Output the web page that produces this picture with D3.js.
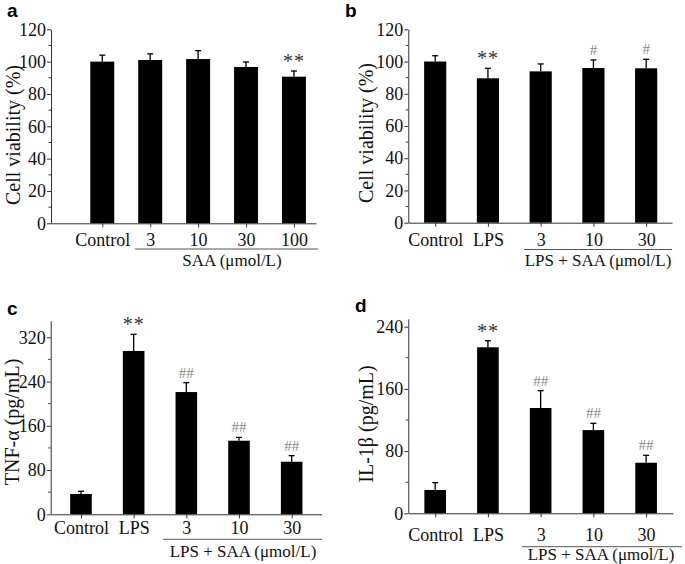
<!DOCTYPE html>
<html>
<head>
<meta charset="utf-8">
<script src="https://cdn.jsdelivr.net/npm/d3@7/dist/d3.min.js"></script>
<style>
  html, body { margin: 0; padding: 0; background: #fff; }
  svg { display: block; }
  .serif { font-family: "Liberation Serif", "Times New Roman", serif; }
</style>
</head>
<body>
<svg id="chart" width="685" height="564"></svg>
<script>
// ---------------- DATA ----------------
const catsA = ["Control", "3", "10", "30", "100"];
const valsA = [100, 101, 101.6, 96.7, 90.7];
const errA  = [4, 3.8, 5.2, 3.1, 3.5];
const sigA  = ["", "", "", "", "**"];

const catsB = ["Control", "LPS", "3", "10", "30"];
const valsB = [100, 89.6, 93.9, 96, 95.8];
const errB  = [3.6, 6.2, 4.6, 5, 5.6];
const sigB  = ["", "**", "", "#", "#"];

const catsC = ["Control", "LPS", "3", "10", "30"];
const valsC = [36.7, 295.3, 221, 133, 95];
const errC  = [4.9, 30, 17, 6, 11];
const sigC  = ["", "**", "##", "##", "##"];

const catsD = ["Control", "LPS", "3", "10", "30"];
const valsD = [30, 213.5, 135.4, 107, 65];
const errD  = [9.4, 8.5, 22.3, 8.7, 9.6];
const sigD  = ["", "**", "##", "##", "##"];

const yTicksAB = [0, 20, 40, 60, 80, 100, 120];
const yMinorAB = [10, 30, 50, 70, 90, 110];
const yTicksC  = [0, 80, 160, 240, 320];
const yMinorC  = [40, 120, 200, 280];
const yTicksD  = [0, 80, 160, 240];
const yMinorD  = [40, 120, 200];

const yLabelA = "Cell viability (%)";
const yLabelB = "Cell viability (%)";
const yLabelC = "TNF-\u03B1 (pg/mL)";
const yLabelD = "IL-1\u03B2 (pg/mL)";
const groupA = "SAA (\u03BCmol/L)";
const groupBCD = "LPS + SAA (\u03BCmol/L)";

// ---------------- LAYOUT ----------------
const panels = [
  { tag: "a", cats: catsA, vals: valsA, errs: errA, sig: sigA, yTicks: yTicksAB, yMinor: yMinorAB,
    yMax: 120, ylabel: yLabelA, group: groupA,
    L: { x0: 51, x1: 316, dom: [-0.07, 5.46], yTop: 29.3, yBot: 223.3, barW: 0.5,
         labelBase: 246.5, lineY: 249, lineX: [135, 318], groupX: 232, groupBase: 266,
         ylabX: 13, ylabY: 135, tagX: 7, tagY: 17 } },
  { tag: "b", cats: catsB, vals: valsB, errs: errB, sig: sigB, yTicks: yTicksAB, yMinor: yMinorAB,
    yMax: 120, ylabel: yLabelB, group: groupBCD,
    L: { x0: 408.3, x1: 672, dom: [0.49, 5.49], yTop: 29.3, yBot: 222.7, barW: 0.42,
         labelBase: 246.5, lineY: 249.5, lineX: [524, 672], groupX: 598, groupBase: 265.5,
         ylabX: 366, ylabY: 133, tagX: 345, tagY: 17 } },
  { tag: "c", cats: catsC, vals: valsC, errs: errC, sig: sigC, yTicks: yTicksC, yMinor: yMinorC,
    yMax: 350, ylabel: yLabelC, group: groupBCD,
    L: { x0: 50.7, x1: 321.7, dom: [0.425, 5.57], yTop: 320.7, yBot: 514.3, barW: 0.41,
         labelBase: 534, lineY: 539.3, lineX: [163, 322], groupX: 243, groupBase: 557,
         ylabX: 12, ylabY: 422, tagX: 7, tagY: 315 } },
  { tag: "d", cats: catsD, vals: valsD, errs: errD, sig: sigD, yTicks: yTicksD, yMinor: yMinorD,
    yMax: 250, ylabel: yLabelD, group: groupBCD,
    L: { x0: 408.3, x1: 673, dom: [0.49, 5.51], yTop: 318.9, yBot: 513.3, barW: 0.41,
         labelBase: 541.5, lineY: 546.7, lineX: [522, 682], groupX: 601, groupBase: 560,
         ylabX: 366, ylabY: 424, tagX: 355, tagY: 312 } }
];

const svg = d3.select("#chart");
const axisColor = "#333";
const serifFont = "Liberation Serif, Times New Roman, serif";

panels.forEach(p => {
  const L = p.L;
  const g = svg.append("g");
  const x = d3.scaleLinear().domain(L.dom).range([L.x0, L.x1]);
  const y = d3.scaleLinear().domain([0, p.yMax]).range([L.yBot, L.yTop]);
  const idx = p.cats.map((c, i) => i + 1);
  const halfW = (x(1 + L.barW) - x(1)) / 2;

  // bars
  g.selectAll("rect.bar").data(p.vals).join("rect")
    .attr("class", "bar")
    .attr("x", (d, i) => x(idx[i]) - halfW)
    .attr("width", halfW * 2)
    .attr("y", d => y(d))
    .attr("height", d => y(0) - y(d))
    .attr("fill", "#000");

  // error bars (upper only)
  const capW = 3;
  g.selectAll("line.err").data(p.vals).join("line")
    .attr("class", "err")
    .attr("x1", (d, i) => x(idx[i])).attr("x2", (d, i) => x(idx[i]))
    .attr("y1", d => y(d)).attr("y2", (d, i) => y(d + p.errs[i]))
    .attr("stroke", "#000").attr("stroke-width", 1.3);
  g.selectAll("line.cap").data(p.vals).join("line")
    .attr("class", "cap")
    .attr("x1", (d, i) => x(idx[i]) - capW).attr("x2", (d, i) => x(idx[i]) + capW)
    .attr("y1", (d, i) => y(d + p.errs[i])).attr("y2", (d, i) => y(d + p.errs[i]))
    .attr("stroke", "#000").attr("stroke-width", 1.3);

  // significance marks
  g.selectAll("text.sig").data(p.sig).join("text")
    .attr("class", "sig serif")
    .attr("x", (d, i) => x(idx[i]))
    .attr("y", (d, i) => y(p.vals[i] + p.errs[i]) - (d.startsWith("*") ? 3 : 5))
    .attr("text-anchor", "middle")
    .attr("font-size", d => d.startsWith("*") ? 20 : 15)
    .attr("fill", d => d.startsWith("*") ? "#333" : "#888")
    .attr("letter-spacing", d => d.startsWith("*") ? 1 : 0)
    .text(d => d);

  // y axis
  const yAxis = d3.axisLeft(y).tickValues(p.yTicks).tickSize(4).tickSizeOuter(0).tickPadding(1)
    .tickFormat(d3.format("d"));
  const ya = g.append("g").attr("transform", `translate(${L.x0},0)`).call(yAxis);
  ya.select(".domain").attr("stroke", axisColor);
  ya.selectAll(".tick line").attr("stroke", axisColor);
  ya.selectAll(".tick text").attr("font-size", 18).attr("fill", "#111")
    .attr("font-family", serifFont);
  // minor ticks
  g.selectAll("line.minor").data(p.yMinor).join("line")
    .attr("class", "minor")
    .attr("x1", L.x0 - 2.5).attr("x2", L.x0)
    .attr("y1", d => y(d)).attr("y2", d => y(d))
    .attr("stroke", axisColor);

  // x axis
  const xAxis = d3.axisBottom(x).tickValues(idx).tickSize(4).tickSizeOuter(0)
    .tickFormat((d, i) => p.cats[i]);
  const xa = g.append("g").attr("transform", `translate(0,${L.yBot})`).call(xAxis);
  xa.select(".domain").attr("stroke", axisColor);
  xa.selectAll(".tick line").attr("stroke", axisColor);
  xa.selectAll(".tick text")
    .attr("font-family", serifFont)
    .attr("font-size", 18).attr("fill", "#111")
    .attr("dy", null)
    .attr("y", L.labelBase - L.yBot);

  // group underline + label
  g.append("line")
    .attr("x1", L.lineX[0]).attr("x2", L.lineX[1])
    .attr("y1", L.lineY).attr("y2", L.lineY)
    .attr("stroke", "#555").attr("stroke-width", 1);
  g.append("text").attr("class", "serif")
    .attr("x", L.groupX).attr("y", L.groupBase)
    .attr("text-anchor", "middle").attr("font-size", 17).attr("fill", "#111")
    .text(p.group);

  // y label
  g.append("text").attr("class", "serif")
    .attr("transform", `translate(${L.ylabX},${L.ylabY}) rotate(-90)`)
    .attr("text-anchor", "middle").attr("dominant-baseline", "central")
    .attr("font-size", 20).attr("fill", "#111")
    .text(p.ylabel);

  // panel tag
  g.append("text")
    .attr("x", L.tagX).attr("y", L.tagY)
    .attr("font-family", "Liberation Sans, Arial, sans-serif")
    .attr("font-weight", "bold").attr("font-size", 19).attr("fill", "#000")
    .text(p.tag);
});
</script>
</body>
</html>
